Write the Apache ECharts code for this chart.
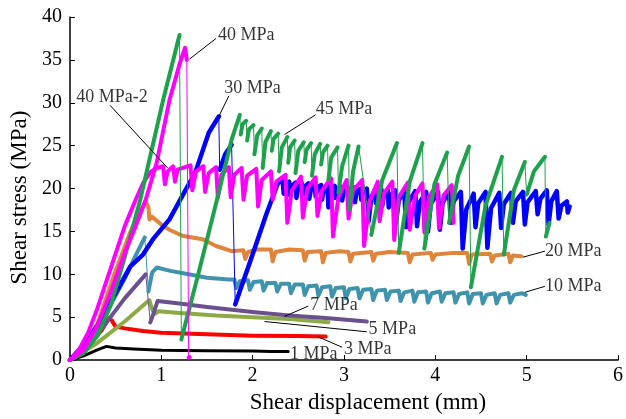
<!DOCTYPE html>
<html>
<head>
<meta charset="utf-8">
<script src="https://cdn.jsdelivr.net/npm/echarts@6/dist/echarts.min.js"></script>
<style>
  html, body { margin: 0; padding: 0; background: #fff; }
  #chart { width: 626px; height: 419px; }
</style>
</head>
<body>
<div id="chart"></div>
<script>
// Shear stress (MPa) versus shear displacement (mm) under different normal stresses.
// Each curve is a list of [displacement, stress] points; a null marks a sudden
// stress drop, drawn as a thin connecting line instead of the thick trace.

const xTicks = [0, 1, 2, 3, 4, 5, 6];
const yTicks = [0, 5, 10, 15, 20, 25, 30, 35, 40];

const curve1 = [[0,0],[0.15,0.5],[0.3,1.2],[0.4,1.6],[0.5,1.42],[0.7,1.3],[1.0,1.15],[1.5,1.08],[2.0,1.05],[2.2,1.0],[2.39,1.0]];

const curve3 = [[0,0],[0.2,1.8],[0.35,3.5],[0.43,4.9],[0.46,4.6],[0.5,3.9],[0.6,3.7],[0.8,3.4],[1.0,3.2],[1.5,3.0],[2.0,2.85],[2.5,2.8],[2.8,2.75]];

const curve5 = [[0,0],[0.3,2.0],[0.6,4.5],[0.87,7.0],[0.9,5.9],[0.93,5.4],[0.97,5.7],[1.2,5.5],[1.6,5.2],[2.0,5.0],[2.4,4.8],[2.83,4.4]];

const curve7 = [[0,0],[0.3,3.0],[0.6,7.2],[0.83,10.0],null,[0.88,4.4],[0.92,5.6],[0.96,6.9],[1.2,6.6],[1.5,6.2],[2.0,5.6],[2.4,5.2],[2.8,4.9],[3.25,4.5]];

const curve10 = [[0,0],[0.15,1.5],[0.3,3.6],[0.45,6.5],[0.6,9.5],[0.72,12.2],[0.82,14.3],null,
  [0.86,8.0],[0.9,10.2],[0.95,10.8],[1.1,10.4],[1.3,10.0],[1.5,9.6],[1.74,9.4],
  [1.8,9.4],[1.82,8.4],[1.86,9.2],[1.95,9.3],[1.97,8.2],[2.01,9.1],[2.1,9.2],[2.12,8.1],[2.16,9.0],
  [2.25,9.0],[2.27,8.0],[2.31,8.9],[2.4,8.9],[2.42,7.8],[2.46,8.8],[2.55,8.8],[2.57,7.6],[2.61,8.6],
  [2.7,8.7],[2.72,7.5],[2.76,8.5],[2.85,8.6],[2.87,7.4],[2.91,8.4],[3.0,8.5],[3.02,7.2],[3.06,8.3],
  [3.15,8.4],[3.17,7.2],[3.21,8.2],[3.3,8.3],[3.32,7.0],[3.36,8.1],[3.45,8.2],[3.47,7.0],[3.51,8.0],
  [3.6,8.1],[3.62,6.9],[3.66,7.9],[3.75,8.1],[3.77,6.8],[3.81,7.9],[3.9,8.0],[3.92,6.7],[3.96,7.8],
  [4.05,8.0],[4.07,6.8],[4.11,7.8],[4.2,7.9],[4.22,6.7],[4.26,7.7],[4.35,7.9],[4.37,6.6],[4.41,7.7],
  [4.5,7.8],[4.52,6.6],[4.56,7.6],[4.65,7.8],[4.67,6.6],[4.71,7.6],[4.8,7.8],[4.82,6.7],[4.86,7.6],
  [4.95,7.8],[4.99,7.6]];

const curve20 = [[0,0],[0.15,1.5],[0.3,4.2],[0.48,9.8],[0.66,14.9],[0.76,17.2],[0.83,18.5],[0.86,17.8],[0.87,16.4],[0.9,16.7],
  [1.0,15.8],[1.09,15.2],[1.23,14.5],[1.45,14.1],[1.6,13.3],[1.77,12.7],[1.9,12.8],[1.92,11.8],[1.95,12.6],
  [2.05,12.9],[2.2,12.9],[2.22,11.5],[2.25,12.6],[2.4,12.9],[2.55,12.8],[2.57,11.6],[2.6,12.6],[2.75,12.7],
  [2.77,11.4],[2.8,12.5],[2.95,12.7],[3.05,12.6],[3.07,11.5],[3.1,12.4],[3.3,12.6],[3.32,11.6],[3.35,12.4],
  [3.5,12.6],[3.7,12.5],[3.72,11.4],[3.75,12.3],[3.95,12.5],[3.97,11.7],[4.0,12.3],[4.2,12.5],[4.35,12.5],
  [4.37,11.2],[4.4,12.3],[4.6,12.4],[4.62,11.5],[4.65,12.2],[4.8,12.4],[4.82,11.4],[4.85,12.2],[4.94,12.1]];

const curve30 = [[0,0],[0.15,1.8],[0.3,4.0],[0.48,7.4],[0.66,10.9],[0.8,12.3],[0.91,14.1],[1.09,16.4],[1.27,19.9],
  [1.37,21.8],[1.52,26.5],[1.63,28.4],null,[1.64,22.2],[1.7,24.0],[1.77,25.1],null,
  [1.81,6.5],[2.0,12.3],[2.15,17.0],[2.28,20.7],
  [2.33,20.9],[2.34,19.4],[2.36,20.4],[2.4,20.8],[2.41,19.2],[2.43,20.3],[2.47,20.7],[2.48,18.9],[2.5,20.2],
  [2.54,20.6],[2.55,19.3],[2.57,20.2],[2.61,20.6],[2.62,18.8],[2.64,20.0],[2.68,20.5],[2.69,19.1],[2.71,20.1],
  [2.75,20.4],[2.76,18.7],[2.78,19.9],[2.82,20.4],[2.83,17.8],[2.86,19.7],[2.9,20.3],[2.91,18.9],[2.93,19.9],
  [2.97,20.2],[2.98,18.6],[3.0,19.8],[3.04,20.1],[3.05,18.9],[3.07,19.8],[3.11,20.1],[3.12,18.4],[3.14,19.7],
  [3.18,20.0],[3.19,18.7],[3.21,19.7],[3.25,20.0],[3.27,16.2],[3.3,19.0],[3.34,19.9],[3.35,18.3],[3.37,19.5],
  [3.41,19.9],[3.42,18.0],[3.44,19.4],[3.48,19.8],[3.49,17.8],[3.52,19.3],[3.56,19.8],[3.57,16.0],[3.6,18.6],
  [3.66,19.8],[3.68,15.5],[3.71,18.4],[3.78,19.7],[3.8,15.6],[3.83,18.4],
  [3.9,19.6],[3.92,15.0],[3.95,18.2],[4.03,19.6],[4.05,15.2],[4.08,18.3],[4.15,19.7],[4.17,16.0],[4.2,18.5],
  [4.28,19.6],[4.3,13.0],[4.34,17.6],[4.42,19.4],[4.44,15.5],[4.47,18.3],[4.55,19.6],[4.57,13.1],[4.61,17.7],
  [4.7,19.5],[4.72,15.4],[4.75,18.2],[4.83,19.5],[4.85,16.0],[4.88,18.5],[4.96,19.6],[4.98,15.8],[5.01,18.4],
  [5.1,19.7],[5.12,17.0],[5.15,18.8],[5.22,19.8],[5.24,15.8],[5.27,18.5],[5.33,19.7],[5.35,16.5],[5.38,18.0],
  [5.44,18.5],[5.45,17.2],[5.47,17.9]];

const curve40 = [[0,0],[0.15,1.2],[0.3,4.0],[0.45,8.0],[0.6,12.5],[0.72,15.6],[0.83,18.7],[0.95,23.0],[1.09,30.3],
  [1.2,34.5],[1.26,36.4],[1.28,35.0],null,[1.3,0.3],[1.31,0.35]];

const curve40b = [[0,0],[0.1,1.2],[0.2,3.2],[0.3,6.0],[0.4,9.2],[0.5,12.4],[0.6,15.6],[0.72,18.7],[0.8,20.6],[0.88,21.9],[0.95,22.4],
  [1.02,22.6],[1.04,20.5],[1.07,22.0],[1.13,22.6],[1.15,20.8],[1.18,22.2],[1.32,22.7],[1.34,19.8],[1.38,22.0],
  [1.46,22.6],[1.48,19.6],[1.52,21.8],[1.6,22.5],[1.62,18.9],[1.66,21.6],[1.74,22.5],[1.76,19.0],[1.8,21.6],
  [1.88,22.4],[1.9,18.7],[1.94,21.5],[2.04,22.3],[2.06,17.9],[2.1,21.0],[2.2,22.0],[2.22,18.7],[2.26,20.8],
  [2.36,21.6],[2.38,16.0],[2.43,19.8],[2.53,21.4],[2.55,16.6],[2.6,20.0],[2.69,21.3],[2.71,16.8],[2.76,19.8],
  [2.86,21.2],[2.88,14.4],[2.94,19.0],[3.03,21.0],[3.05,16.5],[3.1,19.8],[3.2,21.0],[3.22,13.3],[3.28,18.5],
  [3.37,20.8],[3.39,16.2],[3.44,19.5],[3.53,20.8],[3.55,14.0],[3.6,19.0],[3.7,20.7],[3.72,15.2],[3.78,19.2],
  [3.86,20.6],[3.88,14.9],[3.93,19.0],[4.02,20.5],[4.04,15.4],[4.09,19.2],[4.18,20.4],[4.2,16.0]];

const curve45 = [[0,0],[0.15,0.8],[0.3,2.8],[0.45,6.5],[0.6,12.0],[0.77,18.7],[1.02,30.3],[1.2,37.9],null,
  [1.22,2.4],[1.4,9.8],[1.61,18.7],[1.77,25.7],[1.86,28.6],null,
  [1.87,26.3],[1.89,27.5],[1.93,27.9],null,[1.94,25.6],[1.96,26.9],[2.01,27.4],null,
  [2.02,24.0],[2.05,26.2],[2.1,27.0],null,[2.11,22.4],[2.14,25.4],[2.2,26.7],null,
  [2.21,24.4],[2.23,25.8],[2.28,26.4],null,[2.29,22.0],[2.32,24.8],[2.38,26.0],null,
  [2.39,23.0],[2.41,24.8],[2.46,25.6],null,[2.47,21.8],[2.5,24.4],[2.56,25.4],null,
  [2.57,23.1],[2.59,24.5],[2.64,25.3],null,[2.65,21.5],[2.68,24.0],[2.74,25.2],null,
  [2.75,22.8],[2.77,24.2],[2.82,25.0],null,[2.83,21.0],[2.86,23.6],[2.93,24.8],null,
  [2.94,19.5],[2.98,22.6],[3.05,25.0],null,[3.06,17.6],[3.1,22.0],[3.16,24.9],null,
  [3.3,14.6],[3.42,21.0],[3.58,25.3],null,[3.6,12.5],[3.72,20.8],[3.86,25.3],null,
  [3.88,13.0],[3.99,20.5],[4.13,24.2],null,[4.15,16.0],[4.25,21.5],[4.37,24.9],null,
  [4.39,8.5],[4.55,18.0],[4.73,23.7],null,[4.75,12.3],[4.86,19.8],[4.98,23.1],null,
  [5.0,19.3],[5.08,22.0],[5.2,23.7],null,[5.21,14.4],[5.25,16.0]];

// Curve labels with leader lines, in data units
const notes = [
  { text: '40 MPa',   at: [1.62, 37.9], line: [[1.31, 35.1], [1.6, 37.5]] },
  { text: '40 MPa-2', at: [0.07, 30.6], line: [[0.44, 29.7], [1.07, 22.4]] },
  { text: '30 MPa',   at: [1.69, 31.7], line: [[1.74, 30.8], [1.63, 28.4]] },
  { text: '45 MPa',   at: [2.69, 29.3], line: [[2.69, 28.6], [2.35, 26.3]] },
  { text: '20 MPa',   at: [5.2, 12.7],  line: [[5.2, 12.7], [4.96, 12.0]] },
  { text: '10 MPa',   at: [5.2, 8.6],   line: [[5.2, 8.6], [4.98, 7.9]] },
  { text: '7 MPa',    at: [2.63, 6.4],  line: [[2.61, 6.3], [2.35, 5.1]] },
  { text: '5 MPa',    at: [3.27, 3.6],  line: [[3.25, 3.3], [2.13, 4.5]] },
  { text: '3 MPa',    at: [3.0, 1.3],   line: [[2.98, 1.5], [2.72, 2.7]] },
  { text: '1 MPa',    at: [2.41, 0.7],  line: null }
];

const FONT = 'Liberation Serif, Times New Roman, serif';

function traceSeries(pts, color, width, z) {
  const full = pts.filter(p => p !== null);
  const broken = pts.map((p, i) => p === null ? [pts[i - 1][0], null] : p);
  return [
    { type: 'line', data: full, showSymbol: false, silent: true, z: z,
      lineStyle: { color: color, width: 1 } },
    { type: 'line', data: broken, showSymbol: false, silent: true, z: z, connectNulls: false,
      lineStyle: { color: color, width: width, cap: 'round', join: 'round' } }
  ];
}

const series = [].concat(
  traceSeries(curve1, '#000000', 3, 2),
  traceSeries(curve3, '#ff0000', 4, 2),
  traceSeries(curve5, '#8cab45', 4, 2),
  traceSeries(curve7, '#6b5090', 4, 2),
  traceSeries(curve10, '#3f93ad', 4, 2),
  traceSeries(curve20, '#e0843c', 4, 2),
  traceSeries(curve30, '#0000ff', 4.5, 3),
  traceSeries(curve40b, '#ff00ff', 4, 4),
  traceSeries(curve45, '#1ea14c', 4, 5),
  traceSeries(curve40, '#ff00ff', 4, 6)
);

notes.forEach(n => {
  if (n.line) {
    series.push({ type: 'line', data: n.line, showSymbol: false, silent: true, z: 8,
      lineStyle: { color: '#000', width: 1 } });
  }
});

series.push({
  type: 'scatter', symbolSize: 0, silent: true, z: 9,
  data: notes.map(n => ({ value: n.at, name: n.text })),
  label: { show: true, position: 'right', distance: 0, formatter: p => p.name,
    fontFamily: FONT, fontSize: 18, color: '#000' }
});

const chart = echarts.init(document.getElementById('chart'), null, { renderer: 'canvas' });
chart.setOption({
  animation: false,
  backgroundColor: '#fff',
  grid: { left: 66, right: 5, top: 17, bottom: 58, containLabel: false },
  xAxis: {
    type: 'value', min: xTicks[0], max: xTicks[xTicks.length - 1], interval: 1,
    name: 'Shear displacement (mm)', nameLocation: 'middle', nameGap: 30,
    nameTextStyle: { fontFamily: FONT, fontSize: 23, color: '#000', padding: [0, 0, 0, 48] },
    axisLine: { lineStyle: { color: '#000', width: 1.5 } },
    axisTick: { inside: true, length: 5, lineStyle: { color: '#000', width: 1 } },
    axisLabel: { fontFamily: FONT, fontSize: 20, color: '#000', margin: 6 },
    splitLine: { show: false }
  },
  yAxis: {
    type: 'value', min: yTicks[0], max: yTicks[yTicks.length - 1], interval: 5,
    name: 'Shear stress (MPa)', nameLocation: 'middle', nameGap: 34,
    nameTextStyle: { fontFamily: FONT, fontSize: 23, color: '#000', padding: [0, 18, 0, 0] },
    axisLine: { lineStyle: { color: '#000', width: 1.5 } },
    axisTick: { inside: true, length: 5, lineStyle: { color: '#000', width: 1 } },
    axisLabel: { fontFamily: FONT, fontSize: 20, color: '#000', margin: 8 },
    splitLine: { show: false }
  },
  series: series
});
</script>
</body>
</html>
